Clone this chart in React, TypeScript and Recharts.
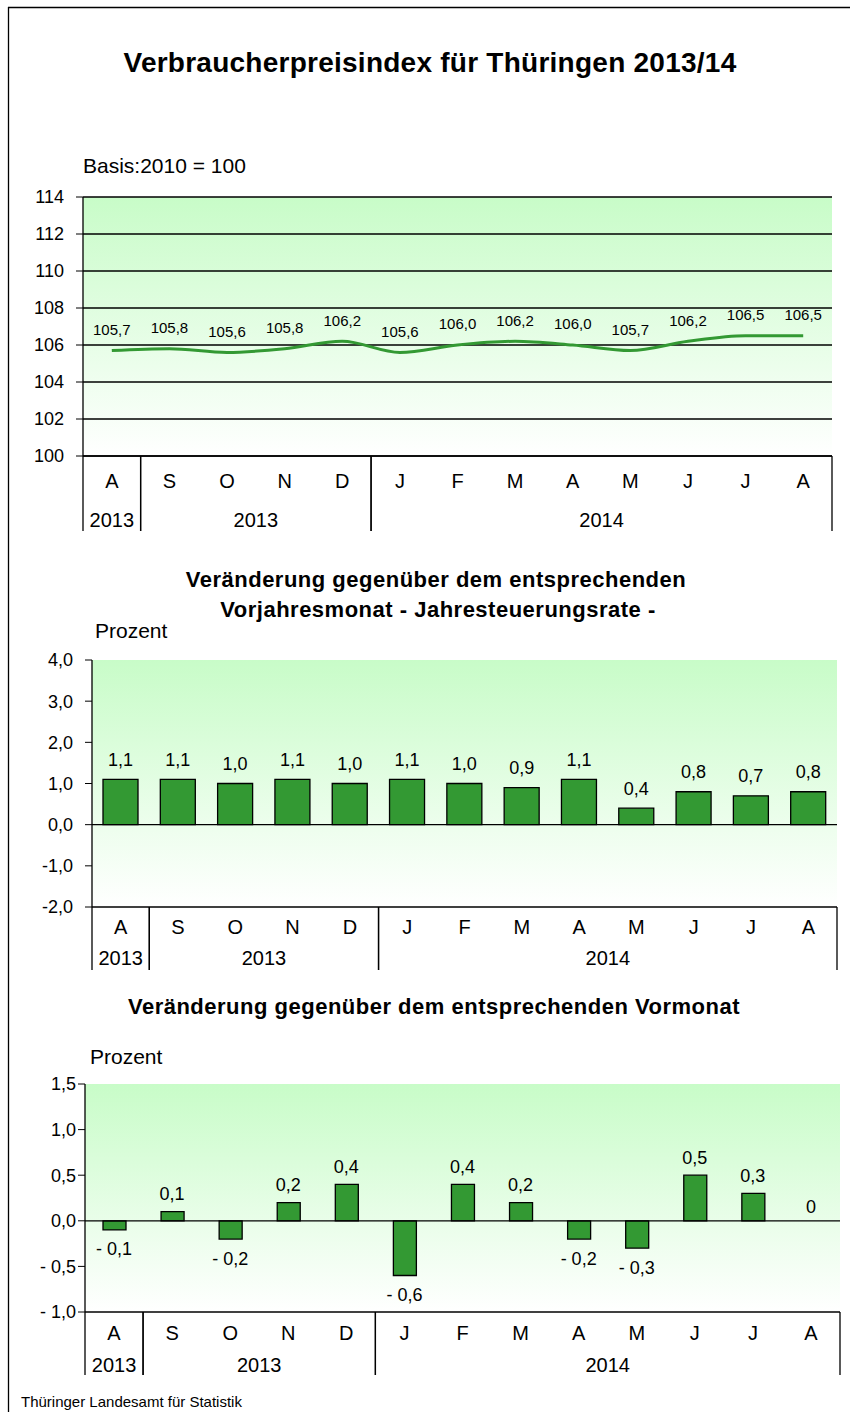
import React from "react";
import {
  ComposedChart,
  Line,
  Bar,
  XAxis,
  YAxis,
  CartesianGrid,
  ReferenceLine,
  LabelList,
} from "recharts";

const FONT = '"Liberation Sans", Arial, Helvetica, sans-serif';
const GREEN = "#339933";

// Monate Aug 2013 - Aug 2014
const periods = [
  "2013-08", "2013-09", "2013-10", "2013-11", "2013-12", "2014-01", "2014-02",
  "2014-03", "2014-04", "2014-05", "2014-06", "2014-07", "2014-08",
];
const months = ["A", "S", "O", "N", "D", "J", "F", "M", "A", "M", "J", "J", "A"];

// Verbraucherpreisindex, Basis 2010 = 100
const indexValues = [105.7, 105.8, 105.6, 105.8, 106.2, 105.6, 106.0, 106.2, 106.0, 105.7, 106.2, 106.5, 106.5];
// Veränderung gegenüber Vorjahresmonat in %
const yoyValues = [1.1, 1.1, 1.0, 1.1, 1.0, 1.1, 1.0, 0.9, 1.1, 0.4, 0.8, 0.7, 0.8];
// Veränderung gegenüber Vormonat in %
const momValues = [-0.1, 0.1, -0.2, 0.2, 0.4, -0.6, 0.4, 0.2, -0.2, -0.3, 0.5, 0.3, 0];

const indexTicks = [100, 102, 104, 106, 108, 110, 112, 114];
const yoyTicks = [-2, -1, 0, 1, 2, 3, 4];
const momTicks = [-1, -0.5, 0, 0.5, 1, 1.5];

const yearGroups = [
  { label: "2013", from: 0, to: 0 },
  { label: "2013", from: 1, to: 4 },
  { label: "2014", from: 5, to: 12 },
];

const rows = periods.map((p, i) => ({
  period: p,
  month: months[i],
  idx: indexValues[i],
  yoy: yoyValues[i],
  mom: momValues[i],
}));

const deNum = (v: number, d = 1) => v.toFixed(d).replace(".", ",");

function makeMonthTick(band: number, sepH: number, monthDy: number, yearDy: number) {
  return function MonthTick(props: any) {
    const { x, y, payload } = props;
    const i = payload?.index ?? props.index;
    const extra: React.ReactNode[] = [];
    yearGroups.forEach((g, gi) => {
      if (g.from === i) {
        extra.push(
          <line key={"l" + gi} x1={x - band / 2} x2={x - band / 2} y1={y} y2={y + sepH} stroke="#000" strokeWidth={1.3} />
        );
      }
      if (g.to === i) {
        extra.push(
          <line key={"r" + gi} x1={x + band / 2} x2={x + band / 2} y1={y} y2={y + sepH} stroke="#000" strokeWidth={1.3} />
        );
      }
      const c = (g.from + g.to) / 2;
      if (Math.floor(c) === i) {
        extra.push(
          <text key={"y" + gi} x={x + (c - Math.floor(c)) * band} y={y + yearDy} textAnchor="middle"
            fontSize={20} fontFamily={FONT} fill="#000">
            {g.label}
          </text>
        );
      }
    });
    return (
      <g>
        <text x={x} y={y + monthDy} textAnchor="middle" fontSize={20} fontFamily={FONT} fill="#000">
          {months[i]}
        </text>
        {extra}
      </g>
    );
  };
}

const lineLabel = (p: any) => {
  const x = p.x ?? p.viewBox?.x;
  const y = p.y ?? p.viewBox?.y;
  return (
    <text x={x} y={y - 21} dy="0.36em" textAnchor="middle" fontSize={15} fontFamily={FONT} fill="#000">
      {deNum(Number(p.value))}
    </text>
  );
};

function makeBarLabel(up: number, down: number, fmt: (v: number) => string) {
  return (p: any) => {
    const vb = p.viewBox ?? p;
    const x = vb.x ?? p.x;
    const y = vb.y ?? p.y;
    const w = vb.width ?? p.width ?? 0;
    const h = vb.height ?? p.height ?? 0;
    const v = Number(p.value);
    const top = Math.min(y, y + h);
    const bottom = Math.max(y, y + h);
    const cy = v < 0 ? bottom + down : top - up;
    return (
      <text x={x + w / 2} y={cy} dy="0.36em" textAnchor="middle" fontSize={18} fontFamily={FONT} fill="#000">
        {fmt(v)}
      </text>
    );
  };
}

const momFmt = (v: number) => (v === 0 ? "0" : v < 0 ? "- " + deNum(-v) : deNum(v));
const momTickFmt = (v: number) => (v < 0 ? "- " + deNum(-v) : deNum(v));

// labels for the month-on-month bars, hung on an invisible line so a zero value still gets its label
const momPointLabel = (p: any) => {
  const x = p.x ?? p.viewBox?.x;
  const y = p.y ?? p.viewBox?.y;
  const v = Number(p.value);
  const cy = v < 0 ? y + 19 : v === 0 ? y - 14 : y - 18;
  return (
    <text x={x} y={cy} dy="0.36em" textAnchor="middle" fontSize={18} fontFamily={FONT} fill="#000">
      {momFmt(v)}
    </text>
  );
};

const tickStyle = { fill: "#000", fontSize: 18, fontFamily: FONT };

function Gradient({ id }: { id: string }) {
  return (
    <defs>
      <linearGradient id={id} x1="0" y1="0" x2="0" y2="1">
        <stop offset="0%" stopColor="#c8fcc8" />
        <stop offset="100%" stopColor="#ffffff" />
      </linearGradient>
    </defs>
  );
}

function IndexChart() {
  const W = 850, H = 360;
  const margin = { top: 17, right: 18, bottom: 9, left: 0 };
  const yW = 83;
  const band = (W - margin.right - yW) / periods.length;
  return (
    <ComposedChart width={W} height={H} data={rows} margin={margin}>
      <Gradient id="bg1" />
      <CartesianGrid fill="url(#bg1)" vertical={false} stroke="#000" strokeWidth={1.3} />
      <XAxis dataKey="period" interval={0} height={75} tickSize={0} tickMargin={0} tickLine={false}
        padding={{ left: band / 2, right: band / 2 }}
        axisLine={{ stroke: "#000", strokeWidth: 1.3 }}
        tick={makeMonthTick(band, 75, 32, 71)} />
      <XAxis xAxisId="top" dataKey="period" orientation="top" height={0} tick={false} tickLine={false}
        axisLine={{ stroke: "#888" }} />
      <YAxis domain={[100, 114]} ticks={indexTicks} interval={0} width={yW} tickSize={7} tickMargin={12}
        axisLine={{ stroke: "#000", strokeWidth: 1.3 }} tickLine={{ stroke: "#000" }} tick={tickStyle}
        allowDataOverflow />
      <YAxis yAxisId="right" orientation="right" width={0} tick={false} tickLine={false}
        axisLine={{ stroke: "#888" }} />
      <Line dataKey="idx" type="monotone" stroke={GREEN} strokeWidth={3} dot={false} isAnimationActive={false}>
        <LabelList dataKey="idx" content={lineLabel} />
      </Line>
    </ComposedChart>
  );
}

function YoyChart() {
  const W = 850, H = 340;
  const margin = { top: 20, right: 13, bottom: 10, left: 0 };
  const yW = 92;
  const band = (W - margin.right - yW) / periods.length;
  return (
    <ComposedChart width={W} height={H} data={rows} margin={margin}>
      <Gradient id="bg2" />
      <CartesianGrid fill="url(#bg2)" vertical={false} horizontal={false} />
      <XAxis dataKey="period" interval={0} height={63} tickSize={0} tickMargin={0} tickLine={false}
        axisLine={{ stroke: "#000", strokeWidth: 1.3 }}
        tick={makeMonthTick(band, 63, 27, 58)} />
      <XAxis xAxisId="top" dataKey="period" orientation="top" height={0} tick={false} tickLine={false}
        axisLine={{ stroke: "#888" }} />
      <YAxis domain={[-2, 4]} ticks={yoyTicks} interval={0} width={yW} tickSize={7} tickMargin={12}
        axisLine={{ stroke: "#000", strokeWidth: 1.3 }} tickLine={{ stroke: "#000" }} tick={tickStyle}
        tickFormatter={(v: number) => deNum(v)} />
      <YAxis yAxisId="right" orientation="right" width={0} tick={false} tickLine={false}
        axisLine={{ stroke: "#888" }} />
      <ReferenceLine y={0} stroke="#000" strokeWidth={1.3} />
      <Bar dataKey="yoy" barSize={35} fill={GREEN} stroke="#000" strokeWidth={1.3} isAnimationActive={false}>
        <LabelList dataKey="yoy" content={makeBarLabel(20, 20, (v) => deNum(v))} />
      </Bar>
    </ComposedChart>
  );
}

function MomChart() {
  const W = 850, H = 320;
  const margin = { top: 19, right: 10, bottom: 10, left: 0 };
  const yW = 85;
  const band = (W - margin.right - yW) / periods.length;
  return (
    <ComposedChart width={W} height={H} data={rows} margin={margin}>
      <Gradient id="bg3" />
      <CartesianGrid fill="url(#bg3)" vertical={false} horizontal={false} />
      <XAxis dataKey="period" interval={0} height={63} tickSize={0} tickMargin={0} tickLine={false}
        axisLine={{ stroke: "#000", strokeWidth: 1.3 }}
        tick={makeMonthTick(band, 63, 28, 60)} />
      <XAxis xAxisId="top" dataKey="period" orientation="top" height={0} tick={false} tickLine={false}
        axisLine={{ stroke: "#888" }} />
      <YAxis domain={[-1, 1.5]} ticks={momTicks} interval={0} width={yW} tickSize={7} tickMargin={2}
        axisLine={{ stroke: "#000", strokeWidth: 1.3 }} tickLine={{ stroke: "#000" }} tick={tickStyle}
        tickFormatter={momTickFmt} />
      <YAxis yAxisId="right" orientation="right" width={0} tick={false} tickLine={false}
        axisLine={{ stroke: "#888" }} />
      <ReferenceLine y={0} stroke="#000" strokeWidth={1.3} />
      <Bar dataKey="mom" barSize={23} fill={GREEN} stroke="#000" strokeWidth={1.3} isAnimationActive={false} />
      <Line dataKey="mom" stroke="none" dot={false} activeDot={false} legendType="none" isAnimationActive={false}>
        <LabelList dataKey="mom" content={momPointLabel} />
      </Line>
    </ComposedChart>
  );
}

export default function App() {
  return (
    <div style={{ position: "absolute", left: 0, top: 0, width: 850, height: 1412, overflow: "hidden", background: "#fff" }}>
      <svg width={850} height={1412} style={{ position: "absolute", left: 0, top: 0 }}>
        <line x1={8.5} x2={8.5} y1={7} y2={1412} stroke="#000" strokeWidth={1.3} />
        <line x1={8} x2={850} y1={7.5} y2={7.5} stroke="#000" strokeWidth={1.3} />
        <text x={430} y={72} textAnchor="middle" fontSize={28} fontWeight="bold" fontFamily={FONT} letterSpacing={0.25}>
          Verbraucherpreisindex für Thüringen 2013/14
        </text>
        <text x={83} y={173} fontSize={21} fontFamily={FONT}>Basis:2010 = 100</text>
        <text x={436} y={587} textAnchor="middle" fontSize={22} fontWeight="bold" fontFamily={FONT} letterSpacing={0.5}>
          Veränderung gegenüber dem entsprechenden
        </text>
        <text x={438} y={617} textAnchor="middle" fontSize={22} fontWeight="bold" fontFamily={FONT} letterSpacing={0.5}>
          Vorjahresmonat - Jahresteuerungsrate -
        </text>
        <text x={95} y={638} fontSize={21} fontFamily={FONT}>Prozent</text>
        <text x={434} y={1014} textAnchor="middle" fontSize={22} fontWeight="bold" fontFamily={FONT} letterSpacing={0.5}>
          Veränderung gegenüber dem entsprechenden Vormonat
        </text>
        <text x={90} y={1064} fontSize={21} fontFamily={FONT}>Prozent</text>
        <text x={21} y={1407} fontSize={15} fontFamily={FONT}>Thüringer Landesamt für Statistik</text>
      </svg>
      <div style={{ position: "absolute", left: 0, top: 180 }}>
        <IndexChart />
      </div>
      <div style={{ position: "absolute", left: 0, top: 640 }}>
        <YoyChart />
      </div>
      <div style={{ position: "absolute", left: 0, top: 1065 }}>
        <MomChart />
      </div>
    </div>
  );
}
